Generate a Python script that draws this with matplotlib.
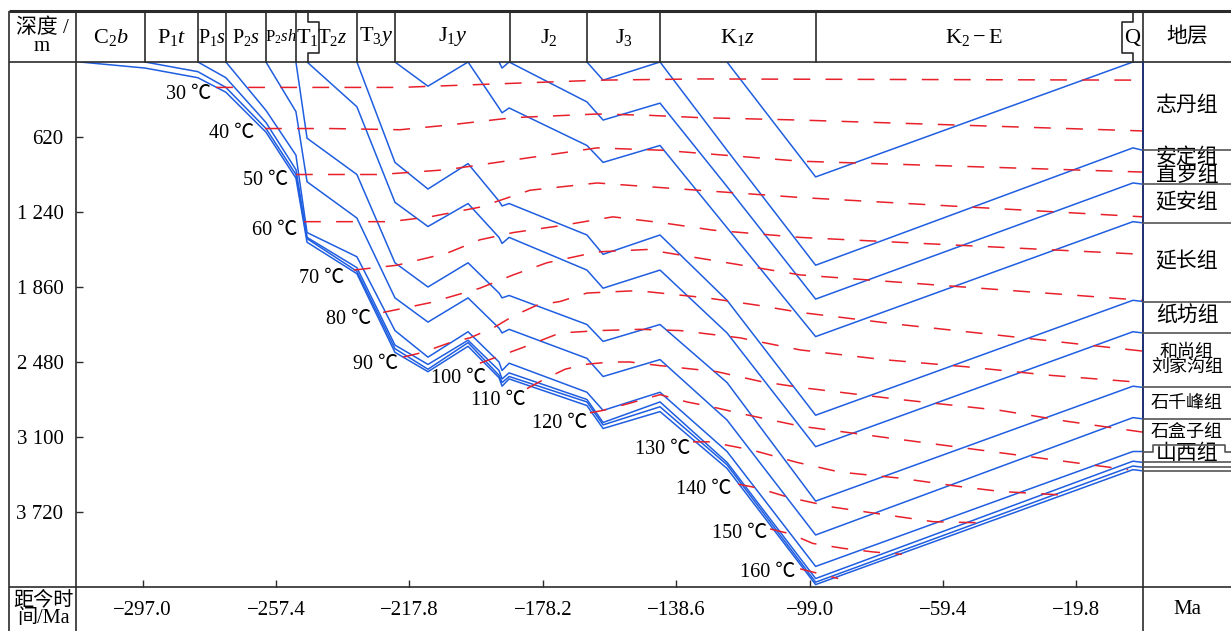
import matplotlib
matplotlib.use("Agg")
from matplotlib import pyplot as plt
from matplotlib import transforms as mtransforms
import numpy as np

plt.rcParams['font.family'] = ['Liberation Serif', 'Noto Sans CJK SC']
plt.rcParams['mathtext.fontset'] = 'custom'
plt.rcParams['mathtext.rm'] = 'Liberation Serif'
plt.rcParams['mathtext.it'] = 'Liberation Serif:italic'

# time nodes of the burial history (Ma, negative = before present)
ages = [-315.6, -296.3, -280.6, -272.3, -260.4, -251.5, -248.2, -233.4, -222.1, -212.3,
        -200.4, -191.2, -190.3, -188.2, -165.1, -160.3, -143.4, -123.5, -97.2, -3.0, 0.0]

# burial depth (m) of each horizon at the nodes, None = not yet deposited
c2b_base = [0, 50, 130, 250, 580, 960, 1490, 1750, 2400, 2560, 2350, 2610, 2680, 2620, 2840, 3030, 2890, 3360, 4320, 3370, 3380]
p1t_base = [None, 0, 80, 210, 550, 930, 1460, 1730, 2370, 2540, 2320, 2590, 2650, 2600, 2810, 3000, 2850, 3330, 4300, 3340, 3350]
p1s_base = [None, None, 0, 130, 500, 890, 1450, 1700, 2340, 2500, 2300, 2550, 2620, 2570, 2790, 2980, 2810, 3310, 4270, 3300, 3310]
p2s_base = [None, None, None, 0, 400, 770, 1410, 1610, 2220, 2440, 2230, 2480, 2550, 2490, 2730, 2880, 2730, 3220, 4170, 3220, 3220]
p2sh_base = [None, None, None, None, 0, 410, 990, 1290, 1950, 2150, 1950, 2200, 2240, 2210, 2450, 2600, 2460, 2960, 3910, 2940, 2950]
t1_base = [None, None, None, None, None, 0, 630, 930, 1660, 1860, 1660, 1910, 1950, 1930, 2170, 2310, 2170, 2650, 3630, 2680, 2690]
t2z_base = [None, None, None, None, None, None, 0, 370, 1160, 1360, 1170, 1450, 1500, 1450, 1720, 1870, 1720, 2240, 3180, 2230, 2240]
t3y_base = [None, None, None, None, None, None, None, 0, 830, 1050, 840, 1150, 1190, 1170, 1430, 1590, 1430, 1970, 2920, 1970, 1980]
j1y_base = [None, None, None, None, None, None, None, None, 0, 200, 0, 380, 420, 380, 690, 830, 690, 1370, 2270, 1320, 1330]
j2_base = [None, None, None, None, None, None, None, None, None, None, None, 0, 50, 0, 330, 480, 340, 1030, 1960, 1000, 1010]
j3_base = [None, None, None, None, None, None, None, None, None, None, None, None, None, None, 0, 150, 0, 730, 1680, 710, 730]
k1z_top = [None, None, None, None, None, None, None, None, None, None, None, None, None, None, None, None, None, 0, 950, 0, 0]

horizons = [c2b_base, p1t_base, p1s_base, p2s_base, p2sh_base, t1_base,
            t2z_base, t3y_base, j1y_base, j2_base, j3_base, k1z_top]

# isotherms: [ages], [depths]
iso30 = [[-275.2, -220.6, -190.9, -161.2, -131.5, 0.0], [210, 210, 180, 150, 140, 150]]
iso40 = [[-260.7, -241.4, -220.6, -205.8, -187.0, -162.1, -147.3, -131.5, -101.8, 0.0],
         [550, 550, 560, 520, 460, 430, 440, 460, 480, 570]]
iso50 = [[-251.5, -226.5, -206.6, -182.0, -162.1, -142.5, -101.8, 0.0],
         [930, 930, 890, 790, 710, 730, 820, 910]]
iso60 = [[-249.1, -223.6, -211.7, -196.9, -182.0, -162.1, -147.3, -101.8, 0.0],
         [1320, 1320, 1280, 1200, 1060, 1000, 1030, 1120, 1280]]
iso70 = [[-234.3, -221.5, -206.6, -196.9, -187.0, -172.2, -157.4, -142.5, -127.7, -101.8, 0.0],
         [1720, 1680, 1580, 1470, 1410, 1350, 1280, 1330, 1390, 1450, 1590]]
iso80 = [[-225.6, -211.7, -196.9, -187.0, -177.0, -162.1, -147.3, -127.7, -101.8, 0.0],
         [2070, 1990, 1870, 1760, 1660, 1570, 1550, 1640, 1760, 1970]]
iso90 = [[-219.7, -213.8, -205.8, -199.8, -192.4, -187.0, -179.9, -173.1, -165.1, -150.2,
          -129.5, -114.6, -101.8, -72.2, -42.4, 0.0],
         [2440, 2400, 2320, 2280, 2190, 2100, 2010, 1980, 1910, 1890, 1950, 2010, 2070, 2170, 2260, 2390]]
iso100 = [[-196.9, -184.1, -173.1, -161.2, -149.3, -137.5, -119.7, -101.8, -77.2, -52.3, -27.6, 0.0],
          [2490, 2360, 2240, 2220, 2210, 2220, 2280, 2380, 2460, 2520, 2590, 2650]]
iso110 = [[-182.9, -177.6, -171.6, -165.7, -158.2, -152.3, -143.4, -126.5, -113.7, -101.8, -72.2,
           -42.4, -22.6, 0.0],
          [2700, 2620, 2540, 2500, 2480, 2480, 2510, 2560, 2640, 2690, 2790, 2880, 2970, 3060]]
iso120 = [[-164.2, -160.3, -152.3, -143.4, -135.4, -126.5, -118.8, -101.8, -72.2, -42.4, -12.8, -4.4],
          [2900, 2880, 2820, 2750, 2810, 2860, 2910, 3010, 3120, 3230, 3340, 3370]]
iso130 = [[-133.6, -128.6, -115.8, -102.7, -90.0, -72.2, -54.3, -42.4, -23.7],
          [3140, 3140, 3210, 3310, 3390, 3440, 3510, 3550, 3580]]
iso140 = [[-120.2, -114.6, -106.3, -101.8, -92.0, -77.2, -62.3, -46.9],
          [3490, 3520, 3590, 3620, 3680, 3740, 3800, 3810]]
iso150 = [[-110.7, -104.8, -98.0, -89.1, -80.2, -71.6], [3860, 3900, 3980, 4020, 4050, 4070]]
iso160 = [[-101.8, -90.5], [4190, 4270]]

isotherms = [iso30, iso40, iso50, iso60, iso70, iso80, iso90, iso100,
             iso110, iso120, iso130, iso140, iso150, iso160]
iso_temps = [30, 40, 50, 60, 70, 80, 90, 100, 110, 120, 130, 140, 150, 160]
iso_label_pos = [(-283.5, 270), (-270.5, 590), (-260.4, 980), (-257.7, 1390), (-243.8, 1790),
                 (-236.0, 2130), (-228.0, 2500), (-203.1, 2620), (-191.5, 2800), (-173.1, 2990),
                 (-142.5, 3200), (-130.3, 3530), (-119.7, 3900), (-111.3, 4220)]

# stratigraphic units along the top
strata_names = [r'$\mathrm{C}_2\mathit{b}$', r'$\mathrm{P}_1\mathit{t}$', r'$\mathrm{P}_1\mathit{s}$',
                r'$\mathrm{P}_2\mathit{s}$', r'$\mathrm{P}_2\mathit{sh}$', r'$\mathrm{T}_1$',
                r'$\mathrm{T}_2\mathit{z}$', r'$\mathrm{T}_3\mathit{y}$', r'$\mathrm{J}_1\mathit{y}$',
                r'$\mathrm{J}_2$', r'$\mathrm{J}_3$', r'$\mathrm{K}_1\mathit{z}$',
                r'$\mathrm{K}_2-\mathrm{E}$', r'$\mathrm{Q}$']
strata_base = [-316.8, -296.3, -280.6, -272.3, -260.4, -251.5, -247.9, -233.4, -222.1,
               -188.0, -165.1, -143.4, -97.2, -3.0]
strata_size = [16, 16, 14.5, 14.5, 12, 16, 15, 16, 16, 16, 16, 16, 16, 16]

# formations in the right column
formation_names = ['志丹组', '安定组\n直罗组', '延安组', '延长组', '纸坊组', '和尚组\n刘家沟组',
                   '石千峰组', '石盒子组', '山西组']
formation_bounds = [0, 730, 1010, 1330, 1980, 2240, 2690, 2950, 3170, 3310]
extra_bounds = [3350, 3380]

y_ticks = [620, 1240, 1860, 2480, 3100, 3720]
y_tick_labels = ['620', '1 240', '1 860', '2 480', '3 100', '3 720']
x_ticks = [-297.0, -257.4, -217.8, -178.2, -138.6, -99.0, -59.4, -19.8]
x_tick_labels = ['\u2212297.0', '\u2212257.4', '\u2212217.8', '\u2212178.2', '\u2212138.6',
                 '\u221299.0', '\u221259.4', '\u221219.8']

BLUE = '#1f5ee0'
RED = '#e8202a'
INK = '#2b2b2b'

W, H = 1231, 631
fig = plt.figure(figsize=(W / 100, H / 100), dpi=100)
ax = fig.add_axes([76 / W, (H - 587) / H, (1143 - 76) / W, 525 / H])
ax.set_xlim(-316.8, 0)
ax.set_ylim(4340, 0)
for sp in ax.spines.values():
    sp.set_visible(False)

for h in horizons:
    ax.plot(ages, np.array(h, dtype=float), color=BLUE, lw=1.1, zorder=3)

for iso in isotherms:
    ax.plot(iso[0], iso[1], color=RED, lw=1.1, ls=(0, (11, 10)), zorder=4)

for t, (xa, ya) in zip(iso_temps, iso_label_pos):
    ax.text(xa, ya, f'{t} \u2103', ha='center', va='center', fontsize=14.5, zorder=5)

ax.set_xticks(x_ticks, labels=x_tick_labels)
ax.set_yticks(y_ticks, labels=y_tick_labels)
ax.tick_params(axis='both', direction='in', length=5, width=1, color=INK, labelsize=15)
ax.tick_params(axis='x', pad=10)
ax.tick_params(axis='y', pad=9)

# table frame (axes fraction coordinates)
def fx(px):
    return (px - 76) / 1067


def fy(py):
    return (587 - py) / 525


def frame_line(xs, ys, lw=1.2, color=INK):
    ax.plot([fx(v) for v in xs], [fy(v) for v in ys], transform=ax.transAxes,
            color=color, lw=lw, clip_on=False, zorder=6, solid_capstyle='butt')


frame_line([9, 1231], [11, 11], lw=2.2)
frame_line([9, 1231], [62, 62])
frame_line([9, 1231], [587, 587])
frame_line([9, 9], [11, 631])
frame_line([76, 76], [11, 631])
frame_line([1143, 1143], [11, 631])
frame_line([1143, 1143], [62, 420], color='#1a2d7a')

# header boundaries (age on x)
top_tr = mtransforms.blended_transform_factory(ax.transData, ax.transAxes)
y_top, y_bot = fy(11), fy(62)
y_n1, y_n2 = fy(22), fy(53)
for i, b in enumerate(strata_base[1:], start=1):
    if i == 6:
        xs = [b, b, b + 3.2, b + 3.2, b, b]
        ys = [y_top, y_n1, y_n1, y_n2, y_n2, y_bot]
    elif i == 13:
        xs = [b, b, b - 3.2, b - 3.2, b, b]
        ys = [y_top, y_n1, y_n1, y_n2, y_n2, y_bot]
    else:
        xs, ys = [b, b], [y_top, y_bot]
    ax.plot(xs, ys, transform=top_tr, color=INK, lw=1.2, clip_on=False, zorder=6)

lefts = list(strata_base)
rights = strata_base[1:] + [0.0]
rights[5] = strata_base[6] + 3.2
lefts[13] = strata_base[13] - 3.2
for name, a, b, fs in zip(strata_names, lefts, rights, strata_size):
    ax.text((a + b) / 2, fy(37), name, transform=top_tr, ha='center', va='center',
            fontsize=fs, clip_on=False)

# right column formations (depth on y)
side_tr = mtransforms.blended_transform_factory(ax.transAxes, ax.transData)
x0, x1 = fx(1143), fx(1231)
xn0, xn1 = fx(1153), fx(1225)
for d in formation_bounds[1:8] + formation_bounds[9:] + extra_bounds:
    ax.plot([x0, x1], [d, d], transform=side_tr, color='#555555', lw=1.2, clip_on=False, zorder=6)
ax.plot([x0, xn0, xn0, xn1, xn1, x1], [3220, 3220, 3170, 3170, 3220, 3220], transform=side_tr,
        color='#555555', lw=1.2, clip_on=False, zorder=6)
for name, a, b in zip(formation_names, formation_bounds[:-1], formation_bounds[1:]):
    fs = 13 if len(name.split('\n')[-1]) > 3 else 15
    ax.text(fx(1187), (a + b) / 2, name, transform=side_tr, ha='center', va='center',
            fontsize=fs, linespacing=0.85, clip_on=False)

ax.text(fx(1187), fy(37), '地层', transform=ax.transAxes, ha='center', va='center', fontsize=15)
ax.text(fx(42), fy(37), '深度 /\nm', transform=ax.transAxes, ha='center', va='center',
        fontsize=15, linespacing=0.95)
ax.text(fx(43), fy(610), '距今时\n间/Ma', transform=ax.transAxes, ha='center', va='center',
        fontsize=14.5, linespacing=0.9)
ax.text(fx(1187), fy(609), 'Ma', transform=ax.transAxes, ha='center', va='center', fontsize=15)

fig.savefig('out.png', dpi=100)
